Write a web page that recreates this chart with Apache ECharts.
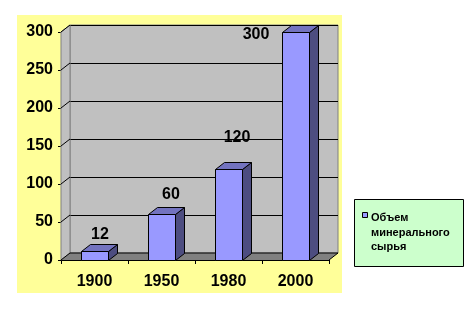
<!DOCTYPE html>
<html>
<head>
<meta charset="utf-8">
<script src="https://cdn.jsdelivr.net/npm/echarts@6/dist/echarts.min.js"></script>
<style>html,body{margin:0;padding:0;background:#fff;}#c{width:472px;height:312px;}</style>
</head>
<body>
<div id="c"></div>
<script>
const categories = ['1900', '1950', '1980', '2000'];
const values = [12, 60, 120, 300];
const yTicks = [0, 50, 100, 150, 200, 250, 300];
const seriesName = 'Объем минерального сырья';
const legendLines = ['Объем', 'минерального', 'сырья'];

const DX = 9, DY = -7;
const FONT = 'Liberation Sans, Arial, sans-serif';
const labelOffsets = [[5.5, -16], [9.5, -19.5], [8.5, -31], [-39.5, 3]];

const chart = echarts.init(document.getElementById('c'), null, {renderer: 'canvas'});

const option = {
  animation: false,
  graphic: [
    {type: 'rect', z: -100, shape: {x: 17, y: 15, width: 325, height: 278}, style: {fill: '#FFFF99'}},
    {type: 'rect', z: 100, shape: {x: 354.5, y: 199.5, width: 109, height: 67}, style: {fill: '#CCFFCC', stroke: '#000', lineWidth: 1}},
    {type: 'rect', z: 101, shape: {x: 362.5, y: 212.5, width: 5, height: 5}, style: {fill: '#9999FF', stroke: '#000', lineWidth: 1}},
    {type: 'text', z: 101, x: 371, y: 211, style: {text: legendLines.join('\n'), font: 'bold 11px ' + FONT, fill: '#000', lineHeight: 14.5, textVerticalAlign: 'top'}}
  ],
  grid: [
    {left: 70, top: 25, width: 268, height: 228, show: true, backgroundColor: '#C0C0C0', borderColor: '#808080', borderWidth: 1},
    {left: 61, top: 32, width: 268, height: 228}
  ],
  xAxis: [
    {gridIndex: 0, type: 'category', data: categories, show: false},
    {gridIndex: 1, type: 'category', data: categories,
      axisLine: {lineStyle: {color: '#000', width: 1}},
      axisTick: {show: true, length: 4, lineStyle: {color: '#000'}},
      axisLabel: {margin: 14, color: '#000', fontSize: 16, fontWeight: 'bold', fontFamily: FONT}}
  ],
  yAxis: [
    {gridIndex: 0, type: 'value', min: 0, max: 300, interval: 50,
      axisLine: {show: false}, axisTick: {show: false}, axisLabel: {show: false},
      splitLine: {show: true, lineStyle: {color: '#000', width: 1}}},
    {gridIndex: 1, type: 'value', min: 0, max: 300, interval: 50,
      axisLine: {show: true, lineStyle: {color: '#000', width: 1}},
      axisTick: {show: true, length: 3, lineStyle: {color: '#000'}},
      splitLine: {show: false},
      axisLabel: {margin: 8, color: '#000', fontSize: 16, fontWeight: 'bold', fontFamily: FONT}}
  ],
  series: [
    {
      type: 'custom', xAxisIndex: 1, yAxisIndex: 1, z: 1, silent: true,
      data: [[0, 0]],
      renderItem: function (params, api) {
        const cs = params.coordSys;
        const x0 = cs.x, x1 = cs.x + cs.width, yt = cs.y, yb = cs.y + cs.height;
        const children = [];
        children.push({type: 'polygon', shape: {points: [[x0, yb], [x1, yb], [x1 + DX, yb + DY], [x0 + DX, yb + DY]]}, style: {fill: '#808080', stroke: null}});
        children.push({type: 'polygon', shape: {points: [[x0, yb], [x0, yt], [x0 + DX, yt + DY], [x0 + DX, yb + DY]]}, style: {fill: '#C0C0C0', stroke: '#808080', lineWidth: 1}});
        yTicks.forEach(function (t) {
          const p = api.coord([0, t]);
          children.push({type: 'line', shape: {x1: x0, y1: p[1], x2: x0 + DX, y2: p[1] + DY}, style: {stroke: '#000', lineWidth: 1}});
        });
        children.push({type: 'line', shape: {x1: x0 + DX, y1: yb + DY, x2: x1 + DX, y2: yb + DY}, style: {stroke: '#000', lineWidth: 1}});
        children.push({type: 'line', shape: {x1: x1, y1: yb, x2: x1 + DX, y2: yb + DY}, style: {stroke: '#000', lineWidth: 1}});
        return {type: 'group', children: children};
      }
    },
    {
      name: seriesName,
      type: 'custom', xAxisIndex: 1, yAxisIndex: 1, z: 5, silent: true,
      data: values.map(function (v, i) { return [i, v]; }),
      renderItem: function (params, api) {
        const idx = api.value(0), v = api.value(1);
        const top = api.coord([idx, v]);
        const base = api.coord([idx, 0]);
        const w = api.size([1, 0])[0] * 0.4;
        const x0 = Math.round(top[0] - w / 2) + 0.5, x1 = x0 + Math.round(w);
        const yt = Math.round(top[1]) + 0.5, yb = Math.round(base[1]) + 0.5;
        const st = {stroke: '#000', lineWidth: 1, lineJoin: 'round'};
        const off = labelOffsets[idx];
        return {type: 'group', children: [
          {type: 'polygon', shape: {points: [[x1, yt], [x1 + DX, yt + DY], [x1 + DX, yb + DY], [x1, yb]]}, style: Object.assign({fill: '#4D4D80'}, st)},
          {type: 'polygon', shape: {points: [[x0, yt], [x1, yt], [x1 + DX, yt + DY], [x0 + DX, yt + DY]]}, style: Object.assign({fill: '#7373BF'}, st)},
          {type: 'rect', shape: {x: x0, y: yt, width: x1 - x0, height: yb - yt}, style: Object.assign({fill: '#9999FF'}, st)},
          {type: 'text', x: top[0] + off[0], y: top[1] + off[1], style: {text: String(v), font: 'bold 16px ' + FONT, fill: '#000', align: 'center', verticalAlign: 'middle'}}
        ]};
      }
    }
  ]
};
chart.setOption(option);
</script>
</body>
</html>
